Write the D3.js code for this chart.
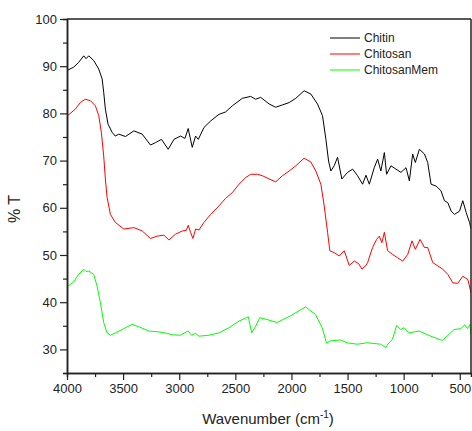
<!DOCTYPE html>
<html>
<head>
<meta charset="utf-8">
<script src="https://cdn.jsdelivr.net/npm/d3@7"></script>
<style>
  body { margin: 0; background: #fff; }
  svg { font-family: Arial, "Liberation Sans", sans-serif; }
</style>
</head>
<body>
<div class="canvas"></div>
<script>
// series data (wavenumber cm-1 / % transmittance)
const chitinWn = [4000, 3991, 3940, 3896, 3851, 3830, 3806, 3762, 3717, 3687, 3673, 3658, 3634, 3598, 3570, 3538, 3479, 3404, 3330, 3256, 3212, 3158, 3098, 3047, 2988, 2949, 2920, 2884, 2854, 2830, 2780, 2720, 2646, 2587, 2527, 2437, 2363, 2319, 2274, 2199, 2140, 2080, 2020, 1961, 1887, 1827, 1768, 1723, 1693, 1669, 1649, 1619, 1589, 1551, 1500, 1455, 1411, 1366, 1336, 1306, 1262, 1232, 1203, 1172, 1152, 1113, 1069, 1024, 979, 949, 920, 896, 860, 815, 786, 756, 711, 667, 637, 607, 577, 547, 502, 473, 443, 413, 400];
const chitinT = [89.0, 89.2, 89.8, 90.8, 92.2, 91.6, 92.2, 91.2, 89.4, 87.3, 84.5, 80.9, 77.7, 76.0, 75.2, 75.6, 75.1, 76.3, 75.6, 73.3, 73.8, 74.5, 72.4, 74.5, 75.2, 74.7, 76.8, 72.8, 75.2, 74.5, 77.0, 78.4, 79.8, 80.3, 81.6, 83.2, 83.6, 83.0, 83.4, 82.0, 81.3, 81.8, 82.3, 83.2, 84.8, 84.1, 82.0, 79.5, 74.5, 69.9, 67.8, 68.9, 70.7, 66.1, 67.5, 68.2, 66.8, 65.0, 66.9, 65.0, 68.5, 70.3, 67.8, 71.7, 67.1, 68.9, 68.2, 67.5, 68.5, 65.7, 71.4, 69.6, 72.4, 71.4, 69.6, 65.0, 64.6, 63.6, 61.5, 61.1, 59.3, 58.6, 59.3, 61.5, 59.0, 56.9, 55.5];

const chitosanWn = [4000, 3991, 3926, 3881, 3837, 3792, 3747, 3717, 3694, 3673, 3658, 3643, 3613, 3569, 3494, 3404, 3330, 3256, 3196, 3137, 3092, 3033, 2973, 2937, 2920, 2899, 2878, 2854, 2824, 2780, 2720, 2646, 2587, 2527, 2467, 2408, 2363, 2303, 2259, 2199, 2140, 2080, 2020, 1961, 1887, 1827, 1783, 1738, 1708, 1678, 1658, 1619, 1574, 1530, 1485, 1440, 1402, 1372, 1336, 1321, 1277, 1241, 1217, 1194, 1172, 1143, 1098, 1053, 1009, 964, 926, 896, 854, 815, 786, 741, 696, 652, 607, 562, 518, 473, 428, 400];
const chitosanT = [79.5, 79.6, 80.9, 82.3, 83.0, 82.7, 81.6, 79.5, 76.0, 71.0, 66.1, 62.2, 58.6, 56.9, 55.5, 55.8, 55.1, 53.5, 54.0, 54.2, 53.2, 54.4, 55.1, 55.2, 56.3, 54.8, 53.5, 55.5, 55.3, 56.9, 58.6, 60.4, 62.0, 63.2, 65.0, 66.4, 67.1, 67.1, 66.8, 66.1, 65.5, 66.8, 67.8, 68.9, 70.5, 69.7, 67.8, 65.0, 60.4, 54.8, 50.9, 50.5, 49.8, 50.9, 47.8, 48.7, 48.2, 47.0, 47.8, 48.4, 51.6, 53.3, 54.0, 52.6, 54.8, 50.9, 50.1, 49.4, 48.7, 50.1, 53.0, 51.2, 53.3, 51.6, 51.6, 48.4, 47.7, 47.0, 45.9, 44.1, 44.0, 45.5, 44.8, 42.0];

const memWn = [4000, 3991, 3940, 3896, 3851, 3830, 3806, 3762, 3732, 3702, 3673, 3643, 3613, 3569, 3494, 3420, 3360, 3271, 3182, 3107, 3062, 2991, 2920, 2890, 2854, 2824, 2735, 2646, 2556, 2467, 2384, 2354, 2319, 2283, 2229, 2128, 2009, 1875, 1786, 1726, 1687, 1652, 1562, 1503, 1413, 1324, 1205, 1161, 1131, 1101, 1062, 1027, 997, 952, 863, 759, 655, 550, 491, 455, 431, 408, 400];
const memT = [43.3, 43.4, 44.3, 45.9, 47.0, 46.5, 46.6, 45.9, 43.4, 39.9, 35.7, 33.5, 33.0, 33.5, 34.4, 35.3, 34.8, 33.9, 33.7, 33.4, 33.1, 33.0, 33.9, 33.0, 33.4, 32.8, 33.0, 33.5, 34.6, 36.0, 36.9, 33.5, 34.9, 36.7, 36.4, 35.7, 37.1, 39.0, 37.4, 34.6, 31.3, 31.8, 32.0, 31.4, 31.1, 31.4, 31.1, 30.4, 31.4, 32.1, 35.1, 34.2, 34.6, 33.5, 33.9, 32.8, 31.9, 34.2, 34.4, 35.2, 34.4, 35.3, 33.2];

const seriesNames = ['Chitin', 'Chitosan', 'ChitosanMem'];
const seriesColors = ['#000000', '#ff0000', '#00ff00'];

const xTicks = [4000, 3500, 3000, 2500, 2000, 1500, 1000, 500];
const yTicks = [30, 40, 50, 60, 70, 80, 90, 100];

// chart dimensions
const dims = { width: 472, height: 431 };
const plot = { left: 67, right: 471, top: 19, bottom: 373 };

const svg = d3.select('.canvas')
  .append('svg')
  .attr('width', dims.width)
  .attr('height', dims.height);

// scales - wavenumber axis runs high to low
const x = d3.scaleLinear().domain([4000, 400]).range([plot.left, plot.right]);
const y = d3.scaleLinear().domain([25, 100]).range([plot.bottom, plot.top]);

// clip the traces to the frame
svg.append('clipPath').attr('id', 'clip')
  .append('rect')
  .attr('x', plot.left).attr('y', plot.top)
  .attr('width', plot.right - plot.left).attr('height', plot.bottom - plot.top);

const line = d3.line()
  .x(d => x(d[0]))
  .y(d => y(d[1]));

const series = [
  d3.zip(chitinWn, chitinT),
  d3.zip(chitosanWn, chitosanT),
  d3.zip(memWn, memT)
];

svg.append('g')
  .attr('clip-path', 'url(#clip)')
  .selectAll('path')
  .data(series)
  .enter()
  .append('path')
    .attr('d', line)
    .attr('fill', 'none')
    .attr('stroke', (d, i) => seriesColors[i])
    .attr('stroke-width', 1);

// frame: top + right
const axisColor = '#222';
svg.append('line')
  .attr('x1', plot.left).attr('x2', plot.right)
  .attr('y1', plot.top).attr('y2', plot.top)
  .attr('stroke', axisColor).attr('stroke-width', 1.5);
svg.append('line')
  .attr('x1', plot.right).attr('x2', plot.right)
  .attr('y1', plot.top).attr('y2', plot.bottom)
  .attr('stroke', axisColor).attr('stroke-width', 1.5);

// minor ticks
const xMinor = d3.range(3750, 400, -500);
const yMinor = d3.range(25, 100, 10);

const xAxisMinor = svg.append('g')
  .attr('transform', `translate(0, ${plot.bottom})`)
  .call(d3.axisBottom(x).tickValues(xMinor).tickSize(4).tickFormat(''));
const yAxisMinor = svg.append('g')
  .attr('transform', `translate(${plot.left}, 0)`)
  .call(d3.axisLeft(y).tickValues(yMinor).tickSize(4).tickFormat(''));

// major axes (plain integers, no thousands separator)
const xAxis = svg.append('g')
  .attr('transform', `translate(0, ${plot.bottom})`)
  .call(d3.axisBottom(x).tickValues(xTicks).tickFormat(d3.format('d'))
    .tickSize(7).tickPadding(4).tickSizeOuter(0));
const yAxis = svg.append('g')
  .attr('transform', `translate(${plot.left}, 0)`)
  .call(d3.axisLeft(y).tickValues(yTicks).tickFormat(d3.format('d'))
    .tickSize(7).tickPadding(3).tickSizeOuter(0));

[xAxis, yAxis, xAxisMinor, yAxisMinor].forEach(g => {
  g.selectAll('line').attr('stroke', axisColor).attr('stroke-width', 1.2);
  g.selectAll('.domain').attr('stroke', axisColor).attr('stroke-width', 1.5);
  g.selectAll('text')
    .attr('fill', '#222')
    .attr('font-size', '13px')
    .attr('font-family', 'Arial, "Liberation Sans", sans-serif');
});

// axis titles
const xTitle = svg.append('text')
  .attr('x', 268)
  .attr('y', 424)
  .attr('text-anchor', 'middle')
  .attr('font-size', '15px')
  .attr('fill', '#222');
xTitle.append('tspan').text('Wavenumber (cm');
xTitle.append('tspan').attr('dy', -6).attr('font-size', '10px').text('-1');
xTitle.append('tspan').attr('dy', 6).text(')');

svg.append('text')
  .attr('transform', `translate(20, 209) rotate(-90)`)
  .attr('text-anchor', 'middle')
  .attr('font-size', '16px')
  .attr('fill', '#222')
  .text('% T');

// legend
const legend = svg.append('g')
  .attr('transform', 'translate(330, 38)');

const items = legend.selectAll('g')
  .data(seriesNames)
  .enter()
  .append('g')
    .attr('transform', (d, i) => `translate(0, ${i * 16})`);

items.append('line')
  .attr('x1', 0).attr('x2', 30)
  .attr('stroke', (d, i) => seriesColors[i])
  .attr('stroke-width', 1);

items.append('text')
  .attr('x', 34)
  .attr('y', 4)
  .attr('font-size', '12px')
  .attr('fill', '#222')
  .text(d => d);
</script>
</body>
</html>
